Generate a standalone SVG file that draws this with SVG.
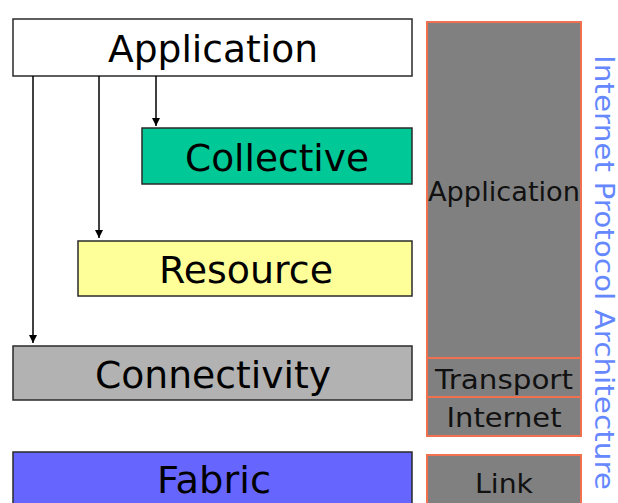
<svg xmlns="http://www.w3.org/2000/svg" width="618" height="503" viewBox="0 0 618 503">
<defs>
<style>
.box{stroke:#2a2a2a;stroke-width:1.5}
.ip{fill:#808080;stroke:#f07050;stroke-width:2}
.big{font-family:"DejaVu Sans",Verdana,sans-serif;font-size:38px;fill:#000;text-anchor:middle}
.sm{font-family:"DejaVu Sans",Verdana,sans-serif;font-size:27px;fill:#111;text-anchor:middle}
.conn{stroke:#000;stroke-width:1.5;fill:none}
</style>
<marker id="ah" viewBox="0 0 10 10" refX="10" refY="5" markerWidth="8" markerHeight="8" markerUnits="userSpaceOnUse" orient="auto">
<path d="M0,0 L10,5 L0,10 z" fill="#000"/>
</marker>
</defs>
<rect width="618" height="503" fill="#fff"/>
<g id="application">
<rect class="box" x="13" y="19" width="399" height="57" fill="#fff"/>
<text class="big" x="213" y="62" textLength="210" lengthAdjust="spacingAndGlyphs">Application</text>
</g>
<g id="collective">
<rect class="box" x="142" y="128" width="270" height="56" fill="#00c896"/>
<text class="big" x="277" y="171" textLength="184" lengthAdjust="spacingAndGlyphs">Collective</text>
</g>
<g id="resource">
<rect class="box" x="78" y="241" width="334" height="55" fill="#ffff99"/>
<text class="big" x="246" y="283" textLength="174" lengthAdjust="spacingAndGlyphs">Resource</text>
</g>
<g id="connectivity">
<rect class="box" x="13" y="346" width="399" height="54" fill="#b2b2b2"/>
<text class="big" x="213" y="388" textLength="236" lengthAdjust="spacingAndGlyphs">Connectivity</text>
</g>
<g id="fabric">
<rect class="box" x="13" y="452" width="399" height="60" fill="#6666ff"/>
<text class="big" x="214" y="493" textLength="114" lengthAdjust="spacingAndGlyphs">Fabric</text>
</g>
<g id="ip-application">
<rect class="ip" x="427" y="22" width="154" height="336"/>
<text class="sm" x="504" y="201" textLength="152" lengthAdjust="spacingAndGlyphs">Application</text>
</g>
<g id="ip-transport">
<rect class="ip" x="427" y="358" width="154" height="39"/>
<text class="sm" x="504" y="389" textLength="138" lengthAdjust="spacingAndGlyphs">Transport</text>
</g>
<g id="ip-internet">
<rect class="ip" x="427" y="397" width="154" height="39"/>
<text class="sm" x="504" y="427" textLength="115" lengthAdjust="spacingAndGlyphs">Internet</text>
</g>
<g id="ip-link">
<rect class="ip" x="427" y="455" width="154" height="60"/>
<text class="sm" x="504" y="493" textLength="58" lengthAdjust="spacingAndGlyphs">Link</text>
</g>
<g id="ip-label">
<text x="0" y="0" transform="translate(595,55) rotate(90)" style="font-family:'DejaVu Sans',Verdana,sans-serif;font-size:26px;fill:#6688ff" textLength="435" lengthAdjust="spacingAndGlyphs">Internet Protocol Architecture</text>
</g>
<g id="connectors">
<line class="conn" x1="156" y1="76" x2="156" y2="126" marker-end="url(#ah)"/>
<line class="conn" x1="99" y1="76" x2="99" y2="238" marker-end="url(#ah)"/>
<line class="conn" x1="33" y1="76" x2="33" y2="343" marker-end="url(#ah)"/>
</g>
</svg>
